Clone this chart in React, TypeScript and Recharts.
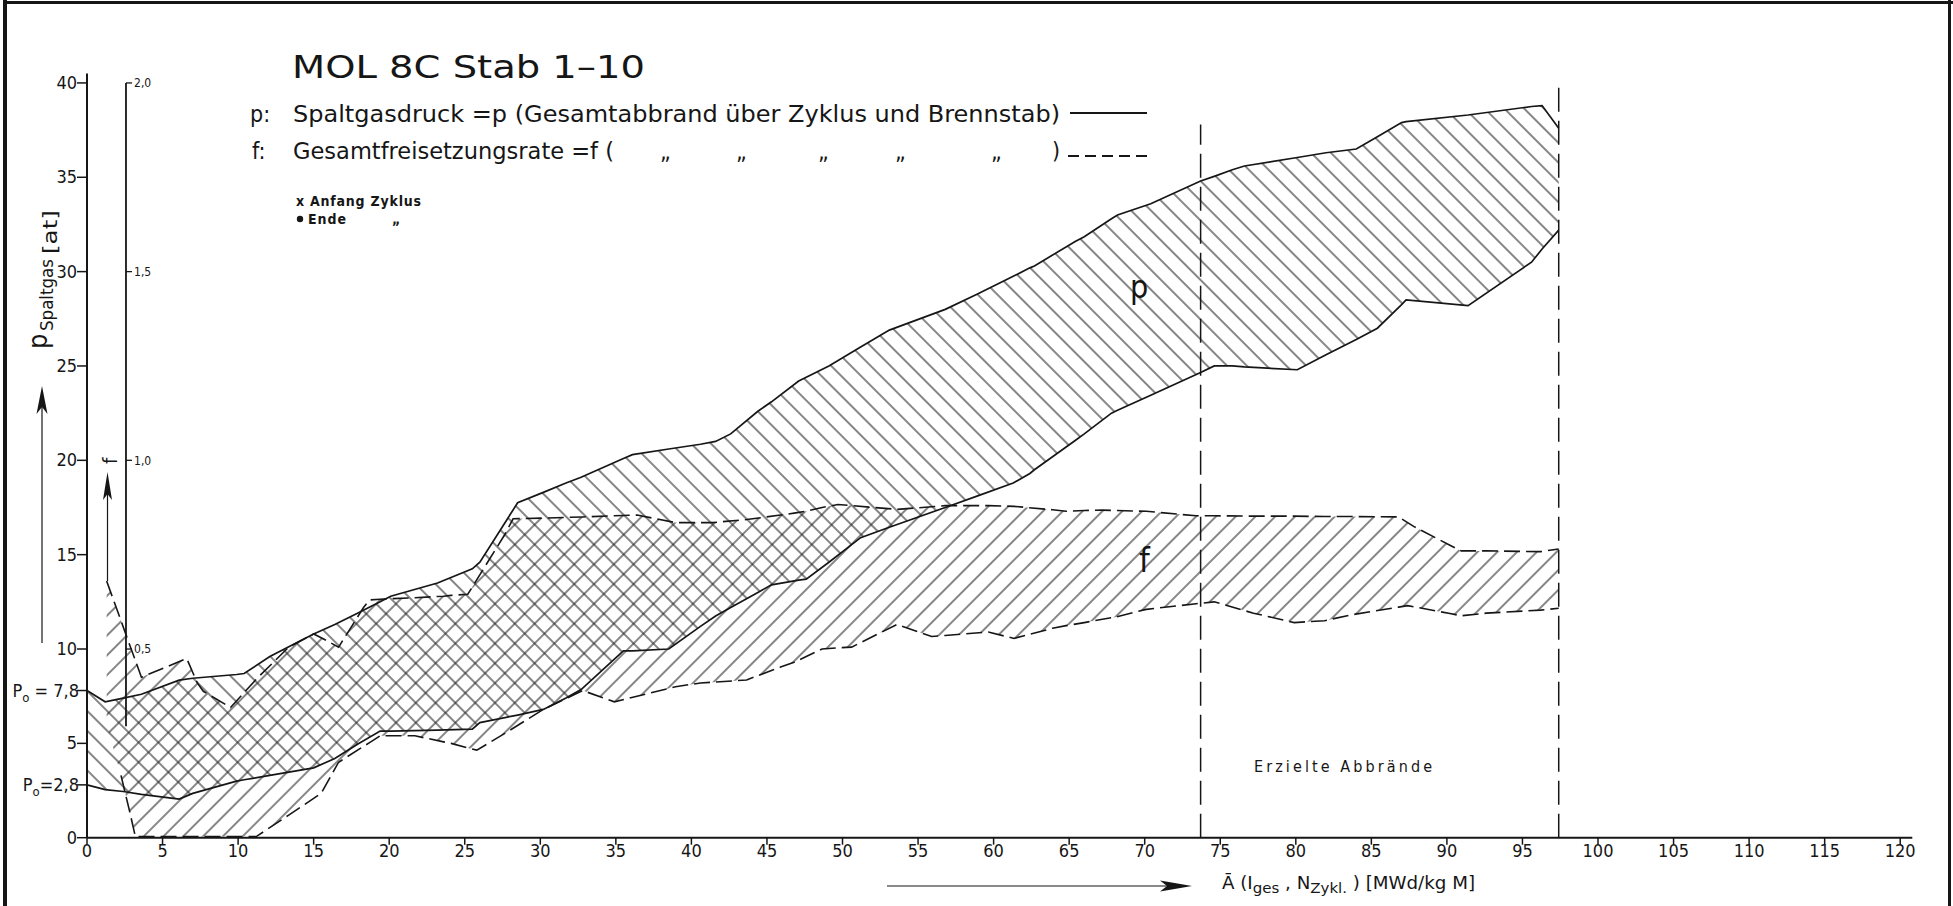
import React from "react";
import { ComposedChart, Area, Line, XAxis, YAxis, ReferenceLine } from "recharts";

const W = 1953;
const H = 906;
const INK = "#161616";
const FONT = '"Liberation Sans Narrow", "DejaVu Sans Condensed", "Noto Sans", sans-serif';
const HATCH = 14;

// mean burnup A [MWd/kg M] where the p envelope was read
const pBurnup = [0, 1.2, 2.4, 3.6, 6.1, 7.0, 9.9, 10.4, 12.1, 15.0, 16.4, 17.9, 19.4, 20.1, 23.2, 25.5, 26.0, 28.5, 30.2, 31.7, 32.7, 35.5, 36.1, 38.5, 40.6, 41.6, 42.6, 44.4, 45.3, 47.1, 47.6, 49.1, 51.2, 53.1, 56.8, 58.9, 61.3, 62.4, 62.7, 65.4, 66.0, 67.8, 68.2, 70.4, 73.7, 74.6, 75.8, 76.6, 80.1, 82.0, 84.0, 85.4, 87.0, 87.3, 91.4, 95.6, 96.3, 97.4];
// Spaltgasdruck p [at], lower / upper envelope
const pLow = [2.8, 2.55, 2.45, 2.3, 2.05, 2.35, 3.0, 3.07, 3.3, 3.7, 4.2, 4.95, 5.65, 5.65, 5.7, 5.75, 6.1, 6.5, 6.8, 7.4, 7.85, 9.9, 9.9, 10.0, 11.2, 11.75, 12.2, 13.0, 13.4, 13.65, 13.7, 14.6, 15.9, 16.45, 17.5, 18.1, 18.8, 19.3, 19.5, 21.05, 21.4, 22.5, 22.65, 23.45, 24.65, 25.0, 25.0, 24.95, 24.8, 25.6, 26.4, 27.0, 28.25, 28.5, 28.2, 30.5, 31.2, 32.2];
const pHigh = [7.8, 7.2, 7.4, 7.6, 8.35, 8.45, 8.65, 8.7, 9.6, 10.8, 11.3, 11.9, 12.5, 12.8, 13.5, 14.25, 14.6, 17.75, 18.3, 18.8, 19.1, 20.1, 20.3, 20.6, 20.85, 21.0, 21.4, 22.6, 23.1, 24.2, 24.4, 25.0, 26.0, 26.9, 28.0, 28.8, 29.75, 30.2, 30.3, 31.6, 31.85, 32.8, 33.0, 33.6, 34.8, 35.05, 35.4, 35.6, 36.05, 36.3, 36.5, 37.15, 37.9, 37.95, 38.3, 38.75, 38.8, 37.6];

// Gesamtfreisetzungsrate f, lower / upper envelope
const fBurnup = [1.3, 2.25, 2.85, 3.2, 3.6, 6.6, 7.3, 7.7, 9.5, 11.2, 13.35, 15.0, 15.5, 16.65, 18.3, 18.7, 19.4, 21.7, 23.6, 24.1, 25.2, 25.8, 27.6, 28.2, 30.2, 32.8, 34.9, 36.4, 38.95, 40.6, 41.4, 43.65, 45.9, 46.8, 47.6, 48.65, 49.7, 50.6, 53.6, 55.9, 56.8, 59.65, 61.35, 63.9, 64.8, 66.0, 67.2, 68.1, 70.1, 73.4, 74.6, 77.2, 79.9, 81.9, 83.6, 86.8, 87.4, 87.8, 90.2, 90.95, 92.6, 96.2, 97.4];
const fLow = [0.30, 0.165, 0.065, 0.003, 0.003, 0.003, 0.003, 0.003, 0.003, 0.003, 0.06, 0.104, 0.118, 0.20, 0.242, 0.252, 0.27, 0.27, 0.254, 0.25, 0.238, 0.232, 0.275, 0.29, 0.34, 0.39, 0.36, 0.375, 0.40, 0.41, 0.412, 0.418, 0.452, 0.465, 0.48, 0.50, 0.503, 0.505, 0.565, 0.533, 0.536, 0.545, 0.528, 0.555, 0.562, 0.57, 0.579, 0.585, 0.605, 0.62, 0.625, 0.595, 0.57, 0.575, 0.59, 0.611, 0.615, 0.612, 0.594, 0.588, 0.595, 0.603, 0.608];
const fHigh = [0.68, 0.575, 0.508, 0.47, 0.425, 0.475, 0.41, 0.388, 0.345, 0.42, 0.505, 0.54, 0.53, 0.505, 0.61, 0.63, 0.632, 0.636, 0.64, 0.642, 0.645, 0.684, 0.80, 0.845, 0.847, 0.85, 0.853, 0.855, 0.835, 0.835, 0.835, 0.843, 0.855, 0.86, 0.865, 0.875, 0.883, 0.88, 0.87, 0.877, 0.88, 0.88, 0.878, 0.869, 0.865, 0.867, 0.868, 0.867, 0.865, 0.853, 0.853, 0.852, 0.852, 0.851, 0.851, 0.85, 0.835, 0.825, 0.775, 0.76, 0.76, 0.758, 0.765];

const xTicks = [0, 5, 10, 15, 20, 25, 30, 35, 40, 45, 50, 55, 60, 65, 70, 75, 80, 85, 90, 95, 100, 105, 110, 115, 120];
const pTicks = [0, 2.8, 5, 7.8, 10, 15, 20, 25, 30, 35, 40];
const fTicks = [0.5, 1.0, 1.5, 2.0];
const fTickLabels = ["0,5", "1,0", "1,5", "2,0"];

// burnups reached (Erzielte Abbrände) and the top of their marker lines
const reachedBurnup = [73.7, 97.4];
const reachedTop = [37.8, 39.8];

const F_AXIS_AT = 2.58;
const Y_LABEL_RIGHT = 77;

function PTick(props: any) {
  const { y, payload } = props;
  const v = payload.value;
  const style = { fill: INK, fontFamily: FONT, fontSize: 18 };
  if (v === 7.8) {
    return (
      <text x={Y_LABEL_RIGHT + 2} y={y + 6} textAnchor="end" {...style}>
        P<tspan fontSize={13} dy={5}>o</tspan>
        <tspan dy={-5}> = 7,8</tspan>
      </text>
    );
  }
  if (v === 2.8) {
    return (
      <text x={Y_LABEL_RIGHT + 2} y={y + 6} textAnchor="end" {...style}>
        P<tspan fontSize={13} dy={5}>o</tspan>
        <tspan dy={-5}>=2,8</tspan>
      </text>
    );
  }
  return (
    <text x={Y_LABEL_RIGHT} y={y + 6} textAnchor="end" {...style}>
      {v}
    </text>
  );
}

function Overlay() {
  const t = { fill: INK, fontFamily: FONT };
  return (
    <svg width={W} height={H} style={{ position: "absolute", left: 0, top: 0, pointerEvents: "none" }}>
      {/* frame */}
      <rect x={3} y={0} width={4} height={H} fill={INK} />
      <rect x={3} y={1} width={W - 3} height={3} fill={INK} />
      <rect x={1948} y={0} width={3} height={H} fill={INK} />

      {/* title and key */}
      <text x={292} y={78} fontSize={32} textLength={353} lengthAdjust="spacingAndGlyphs" {...t}>MOL 8C  Stab 1–10</text>
      <text x={250} y={122} fontSize={23} {...t}>p:</text>
      <text x={293} y={122} fontSize={23} textLength={767} lengthAdjust="spacingAndGlyphs" {...t}>
        Spaltgasdruck =p (Gesamtabbrand über Zyklus und Brennstab)
      </text>
      <line x1={1070} x2={1147} y1={113} y2={113} stroke={INK} strokeWidth={1.8} />
      <text x={252} y={159} fontSize={23} {...t}>f:</text>
      <text x={293} y={159} fontSize={23} textLength={321} lengthAdjust="spacingAndGlyphs" {...t}>
        Gesamtfreisetzungsrate =f (
      </text>
      {[660, 736, 818, 895, 991].map((x) => (
        <text key={x} x={x} y={159} fontSize={23} {...t}>„</text>
      ))}
      <text x={1052} y={159} fontSize={23} {...t}>)</text>
      <line x1={1068} x2={1147} y1={156} y2={156} stroke={INK} strokeWidth={1.8} strokeDasharray="11 6" />
      <text x={296} y={206} fontSize={14} fontWeight={600} textLength={125} lengthAdjust="spacing" {...t}>x Anfang  Zyklus</text>
      <circle cx={300} cy={219} r={3.2} fill={INK} />
      <text x={308} y={224} fontSize={14} fontWeight={600} textLength={38} lengthAdjust="spacing" {...t}>Ende</text>
      <text x={392} y={224} fontSize={14} fontWeight={600} {...t}>„</text>

      {/* y label with arrow */}
      <text transform="translate(47,349) rotate(-90)" fontSize={27} {...t}>p</text>
      <text transform="translate(53,331) rotate(-90)" fontSize={17} textLength={72} lengthAdjust="spacingAndGlyphs" {...t}>Spaltgas</text>
      <text transform="translate(57,254) rotate(-90)" fontSize={20} textLength={44} lengthAdjust="spacingAndGlyphs" {...t}>[at]</text>
      <line x1={42} x2={42} y1={405} y2={643} stroke={INK} strokeWidth={1.2} />
      <polygon points="42,386 47.5,414 42,407 36.5,414" fill={INK} />

      {/* f arrow */}
      <line x1={107.5} x2={107.5} y1={494} y2={581} stroke={INK} strokeWidth={1.2} />
      <polygon points="107.5,472 112,500 107.5,494 103,500" fill={INK} />
      <text transform="translate(117,464) rotate(-90)" fontSize={20} {...t}>f</text>

      {/* band labels */}
      <text x={1130} y={298} fontSize={32} {...t}>p</text>
      <text x={1139} y={572} fontSize={34} {...t}>f</text>

      <text x={1254} y={772} fontSize={16} textLength={178} lengthAdjust="spacing" {...t}>Erzielte  Abbrände</text>

      {/* x label with arrow */}
      <line x1={887} x2={1168} y1={886} y2={886} stroke={INK} strokeWidth={1.2} />
      <polygon points="1192,886 1160,880.5 1167,886 1160,891.5" fill={INK} />
      <text x={1222} y={889} fontSize={17} textLength={253} lengthAdjust="spacingAndGlyphs" {...t}>
        Ā (I<tspan fontSize={14} dy={4}>ges</tspan>
        <tspan dy={-4}> , N</tspan>
        <tspan fontSize={14} dy={4}>Zykl.</tspan>
        <tspan dy={-4}> ) [MWd/kg M]</tspan>
      </text>
    </svg>
  );
}

export default function App() {
  const pRows = pBurnup.map((a, i) => ({ a, lo: pLow[i], hi: pHigh[i], range: [pLow[i], pHigh[i]] }));
  // the lower f edge is open at its first point (the band starts at the arrow)
  const fRows = fBurnup.map((a, i) => ({
    a,
    lo: i === 0 ? null : fLow[i],
    hi: fHigh[i],
    range: [fLow[i], fHigh[i]],
  }));

  return (
    <div style={{ position: "absolute", left: 0, top: 0, width: W, height: H, background: "#fff" }}>
      <svg width={0} height={0} style={{ position: "absolute" }}>
        <defs>
          <pattern id="hatchP" patternUnits="userSpaceOnUse" width={HATCH} height={HATCH} patternTransform="rotate(-45)">
            <line x1={HATCH / 2} y1={0} x2={HATCH / 2} y2={HATCH} stroke="#222" strokeWidth={1.1} />
          </pattern>
          <pattern id="hatchF" patternUnits="userSpaceOnUse" width={HATCH} height={HATCH} patternTransform="rotate(45)">
            <line x1={HATCH / 2} y1={0} x2={HATCH / 2} y2={HATCH} stroke="#222" strokeWidth={1.1} />
          </pattern>
        </defs>
      </svg>
      <ComposedChart width={W} height={H} margin={{ top: 73.5, right: 40.7, bottom: 38.3, left: 47 }}>
        <XAxis
          type="number"
          dataKey="a"
          domain={[0, 120.8]}
          ticks={xTicks}
          interval={0}
          height={30}
          tickSize={7}
          tickMargin={0}
          axisLine={{ stroke: INK, strokeWidth: 2 }}
          tickLine={{ stroke: INK, strokeWidth: 1.5 }}
          tick={{ fill: INK, fontSize: 18, fontFamily: FONT }}
        />
        <YAxis
          yAxisId="p"
          type="number"
          domain={[0, 40.5]}
          ticks={pTicks}
          interval={0}
          width={40}
          tickSize={10}
          tickMargin={1}
          axisLine={{ stroke: INK, strokeWidth: 2 }}
          tickLine={{ stroke: INK, strokeWidth: 1.5 }}
          tick={<PTick />}
        />
        {/* f scale: only its scale is used here, the visible scale is drawn at F_AXIS_AT */}
        <YAxis yAxisId="f" type="number" orientation="right" width={0} domain={[0, 2.025]} hide />

        <Area
          yAxisId="p"
          data={pRows}
          dataKey="range"
          type="linear"
          stroke="none"
          fill="url(#hatchP)"
          fillOpacity={1}
          isAnimationActive={false}
        />
        <Area
          yAxisId="f"
          data={fRows}
          dataKey="range"
          type="linear"
          stroke="none"
          fill="url(#hatchF)"
          fillOpacity={1}
          isAnimationActive={false}
        />
        <Line yAxisId="p" data={pRows} dataKey="hi" type="linear" stroke={INK} strokeWidth={1.7} dot={false} isAnimationActive={false} />
        <Line yAxisId="p" data={pRows} dataKey="lo" type="linear" stroke={INK} strokeWidth={1.7} dot={false} isAnimationActive={false} />
        <Line yAxisId="f" data={fRows} dataKey="hi" type="linear" stroke={INK} strokeWidth={1.6} strokeDasharray="16 6" dot={false} isAnimationActive={false} />
        <Line yAxisId="f" data={fRows} dataKey="lo" type="linear" stroke={INK} strokeWidth={1.6} strokeDasharray="16 6" dot={false} isAnimationActive={false} />

        {reachedBurnup.map((b, i) => (
          <ReferenceLine
            key={b}
            yAxisId="p"
            segment={[{ x: b, y: 0 }, { x: b, y: reachedTop[i] }]}
            stroke={INK}
            strokeWidth={1.5}
            strokeDasharray="24 9"
          />
        ))}

        <ReferenceLine
          yAxisId="f"
          segment={[{ x: F_AXIS_AT, y: 0.295 }, { x: F_AXIS_AT, y: 2.0 }]}
          stroke={INK}
          strokeWidth={1.8}
        />
        {fTicks.map((v, i) => (
          <ReferenceLine
            key={v}
            yAxisId="f"
            segment={[{ x: F_AXIS_AT, y: v }, { x: F_AXIS_AT + 0.4, y: v }]}
            stroke={INK}
            strokeWidth={1.3}
            label={{ value: fTickLabels[i], position: "right", offset: 2, fontSize: 12, fill: INK, fontFamily: FONT }}
          />
        ))}
      </ComposedChart>
      <Overlay />
    </div>
  );
}
